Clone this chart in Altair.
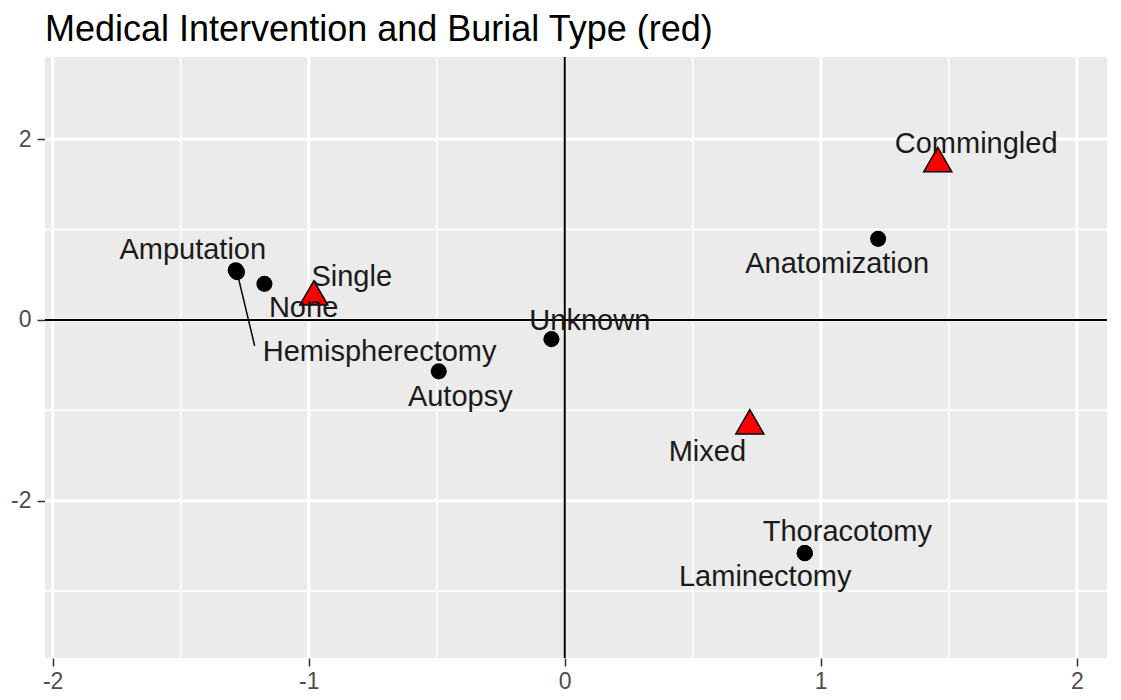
import altair as alt
import pandas as pd

# Medical intervention points (black circles)
med_labels = ["Amputation", "None", "Hemispherectomy", "Autopsy", "Unknown",
              "Anatomization", "Thoracotomy", "Laminectomy"]
med_x = [-1.285, -1.173, -1.28, -0.492, -0.052, 1.224, 0.9375, 0.9375]
med_y = [0.55, 0.40, 0.53, -0.568, -0.212, 0.898, -2.58, -2.58]
med_lx = [-1.453, -1.02, -0.723, -0.408, 0.098, 1.064, 1.104, 0.783]
med_ly = [0.775, 0.132, -0.357, -0.852, -0.01, 0.615, -2.35, -2.846]

# Burial type points (red triangles)
bur_labels = ["Single", "Commingled", "Mixed"]
bur_x = [-0.98, 1.457, 0.723]
bur_y = [0.30, 1.775, -1.126]
bur_lx = [-0.832, 1.607, 0.557]
bur_ly = [0.473, 1.945, -1.46]

# repel segment (Hemispherectomy)
seg_x = [-1.28]
seg_y = [0.53]
seg_x2 = [-1.211]
seg_y2 = [-0.286]

major_x = [-2, -1, 0, 1, 2]
minor_x = [-1.5, -0.5, 0.5, 1.5]
major_y = [-2, 0, 2]
minor_y = [-3, -1, 1]
zero_line = [0]

med = pd.DataFrame({"label": med_labels, "x": med_x, "y": med_y, "lx": med_lx, "ly": med_ly})
bur = pd.DataFrame({"label": bur_labels, "x": bur_x, "y": bur_y, "lx": bur_lx, "ly": bur_ly})
seg = pd.DataFrame({"x": seg_x, "y": seg_y, "x2": seg_x2, "y2": seg_y2})

xs = alt.Scale(domain=[-2.03, 2.118], nice=False, zero=False)
ys = alt.Scale(domain=[-3.74, 2.91], nice=False, zero=False)
FONT = "Liberation Sans"
LBL = "toString(datum.value)"
xaxis = alt.Axis(values=major_x, labelExpr=LBL, title=None, grid=False, domain=False,
                 tickColor="#333333", tickSize=8, tickWidth=1.5, labelFontSize=23,
                 labelColor="#4D4D4D", labelFont=FONT, labelPadding=4)
yaxis = alt.Axis(values=major_y, labelExpr=LBL, title=None, grid=False, domain=False,
                 tickColor="#333333", tickSize=8, tickWidth=1.5, labelFontSize=23,
                 labelColor="#4D4D4D", labelFont=FONT, labelPadding=6)


def X(f):
    return alt.X(f, type="quantitative", scale=xs, axis=xaxis)


def Y(f):
    return alt.Y(f, type="quantitative", scale=ys, axis=yaxis)


def vrules(vals, color, width):
    return alt.Chart(pd.DataFrame({"v": vals})).mark_rule(color=color, strokeWidth=width).encode(x=X("v"))


def hrules(vals, color, width):
    return alt.Chart(pd.DataFrame({"v": vals})).mark_rule(color=color, strokeWidth=width).encode(y=Y("v"))


layers = [
    vrules(minor_x, "white", 1.5),
    hrules(minor_y, "white", 1.5),
    vrules(major_x, "white", 3),
    hrules(major_y, "white", 3),
    vrules(zero_line, "black", 2),
    hrules(zero_line, "black", 2),
    alt.Chart(seg).mark_rule(color="black", strokeWidth=1.5).encode(
        x=X("x"), y=Y("y"), x2="x2", y2="y2"),
    alt.Chart(med).mark_point(shape="circle", filled=True, color="black", size=260, opacity=1).encode(
        x=X("x"), y=Y("y")),
    alt.Chart(bur).mark_point(shape="triangle-up", filled=True, fill="#FF0000", stroke="black",
                              strokeWidth=1.5, size=784, opacity=1).encode(x=X("x"), y=Y("y")),
    alt.Chart(med).mark_text(font=FONT, fontSize=29, color="#1A1A1A", baseline="middle").encode(
        x=X("lx"), y=Y("ly"), text="label"),
    alt.Chart(bur).mark_text(font=FONT, fontSize=29, color="#1A1A1A", baseline="middle").encode(
        x=X("lx"), y=Y("ly"), text="label"),
]

chart = alt.layer(*layers).properties(
    width=1062,
    height=601,
    title=alt.Title("Medical Intervention and Burial Type (red)", anchor="start", frame="group",
                    fontSize=36, font=FONT, fontWeight="normal", color="black", offset=7),
    autosize=alt.AutoSizeParams(type="pad"),
    padding={"left": 2, "top": 3, "right": 0, "bottom": 2},
).configure_view(fill="#EBEBEB", strokeWidth=0)

chart.save("out.html", embed_options={"renderer": "svg", "actions": False})
